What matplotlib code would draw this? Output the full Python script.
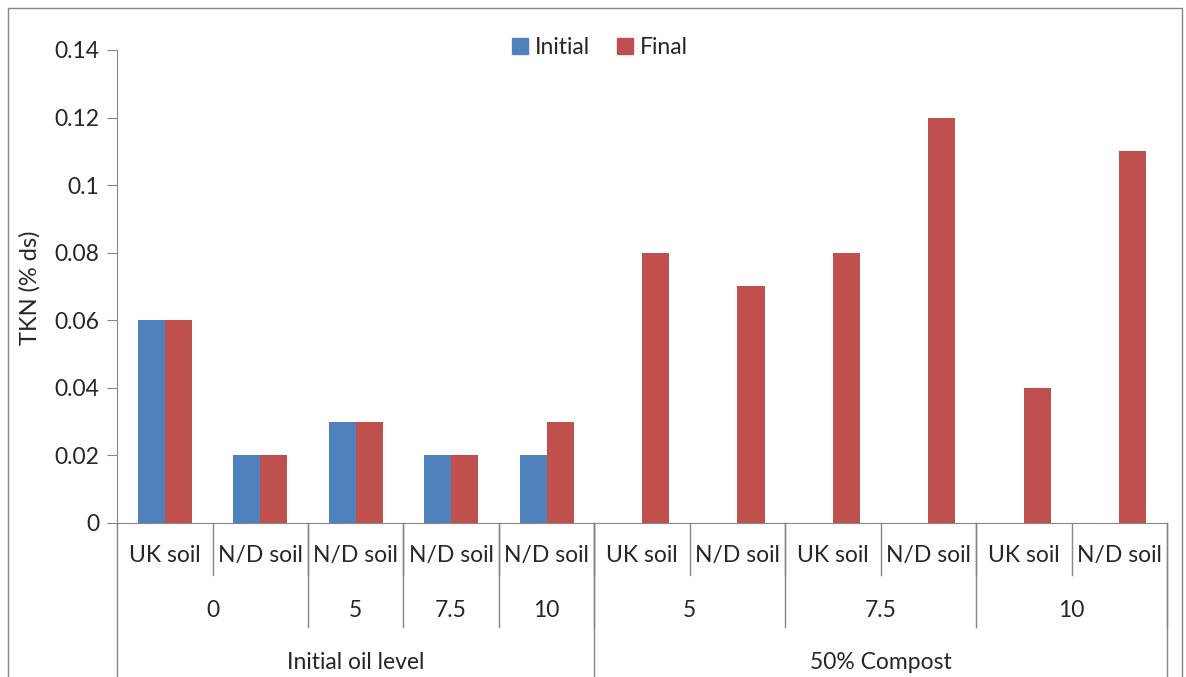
import numpy as np
import matplotlib
matplotlib.use("Agg")
import matplotlib.pyplot as plt
from matplotlib.patches import Patch, Rectangle
import matplotlib.transforms as mtransforms

plt.rcParams['font.family'] = ['Lato', 'DejaVu Sans']

# data
soils = ['UK soil', 'N/D soil', 'N/D soil', 'N/D soil', 'N/D soil',
         'UK soil', 'N/D soil', 'UK soil', 'N/D soil', 'UK soil', 'N/D soil']
levels = ['0', '5', '7.5', '10', '5', '7.5', '10']
level_spans = [(0, 1), (2, 2), (3, 3), (4, 4), (5, 6), (7, 8), (9, 10)]
groups = ['Initial oil level', '50% Compost']
group_spans = [(0, 4), (5, 10)]
initial = [0.06, 0.02, 0.03, 0.02, 0.02, np.nan, np.nan, np.nan, np.nan, np.nan, np.nan]
final = [0.06, 0.02, 0.03, 0.02, 0.03, 0.08, 0.07, 0.08, 0.12, 0.04, 0.11]

blue = '#4F81BD'
red = '#C0504D'
grey = '#868686'
txt = '#262626'

fig = plt.figure(figsize=(11.86, 6.77), dpi=100)
ax = fig.add_axes([0.0987, 0.2275, 0.8853, 0.6987])

x = np.arange(len(soils))
w = 0.283
ax.bar(x - w / 2, initial, w, color=blue, label='Initial')
ax.bar(x + w / 2, final, w, color=red, label='Final')

ax.set_xlim(-0.5, len(soils) - 0.5)
ax.set_ylim(0, 0.14)
yt = np.arange(0, 0.141, 0.02)
ax.set_yticks(yt)
ax.set_yticklabels(['0', '0.02', '0.04', '0.06', '0.08', '0.1', '0.12', '0.14'])
ax.set_xticks([])
for s in ['top', 'right']:
    ax.spines[s].set_visible(False)
for s in ['left', 'bottom']:
    ax.spines[s].set_color(grey)
ax.tick_params(axis='y', direction='out', length=7, color=grey, labelsize=16.5,
               labelcolor=txt, pad=6)

# multi-level category axis
tr = mtransforms.blended_transform_factory(ax.transData, ax.transAxes)
ln = dict(color=grey, lw=1, transform=tr, clip_on=False)
for i, s in enumerate(soils):
    ax.text(i, -0.068, s, ha='center', va='center', fontsize=16.5, color=txt, transform=tr)
for i in range(1, len(soils)):
    ax.plot([i - 0.5, i - 0.5], [0, -0.11], **ln)
for (a, b), lv in zip(level_spans, levels):
    ax.text((a + b) / 2, -0.184, lv, ha='center', va='center', fontsize=16.5, color=txt, transform=tr)
    ax.plot([b + 0.5, b + 0.5], [0, -0.22], **ln)
for (a, b), g in zip(group_spans, groups):
    ax.text((a + b) / 2, -0.294, g, ha='center', va='center', fontsize=16.5, color=txt, transform=tr)
    ax.plot([b + 0.5, b + 0.5], [0, -0.4], **ln)
ax.plot([-0.5, -0.5], [0, -0.4], **ln)

# legend
handles = [Patch(color=blue, label='Initial'), Patch(color=red, label='Final')]
ax.legend(handles=handles, loc='center', bbox_to_anchor=(0.46, 1.006), ncol=2,
          frameon=False, fontsize=16.5, handlelength=0.7, handleheight=0.7,
          handletextpad=0.3, columnspacing=1.2, labelcolor=txt)

fig.text(30 / 1186, 1 - 288 / 677, 'TKN (% ds)', rotation=90, ha='center', va='center',
         fontsize=17, color=txt)

# outer chart border
fig.patches.append(Rectangle((8 / 1186, -0.1), 1174 / 1186, 1.1 - 8 / 677, fill=False,
                             edgecolor=grey, lw=1, transform=fig.transFigure))

fig.savefig('out.png', dpi=100)
